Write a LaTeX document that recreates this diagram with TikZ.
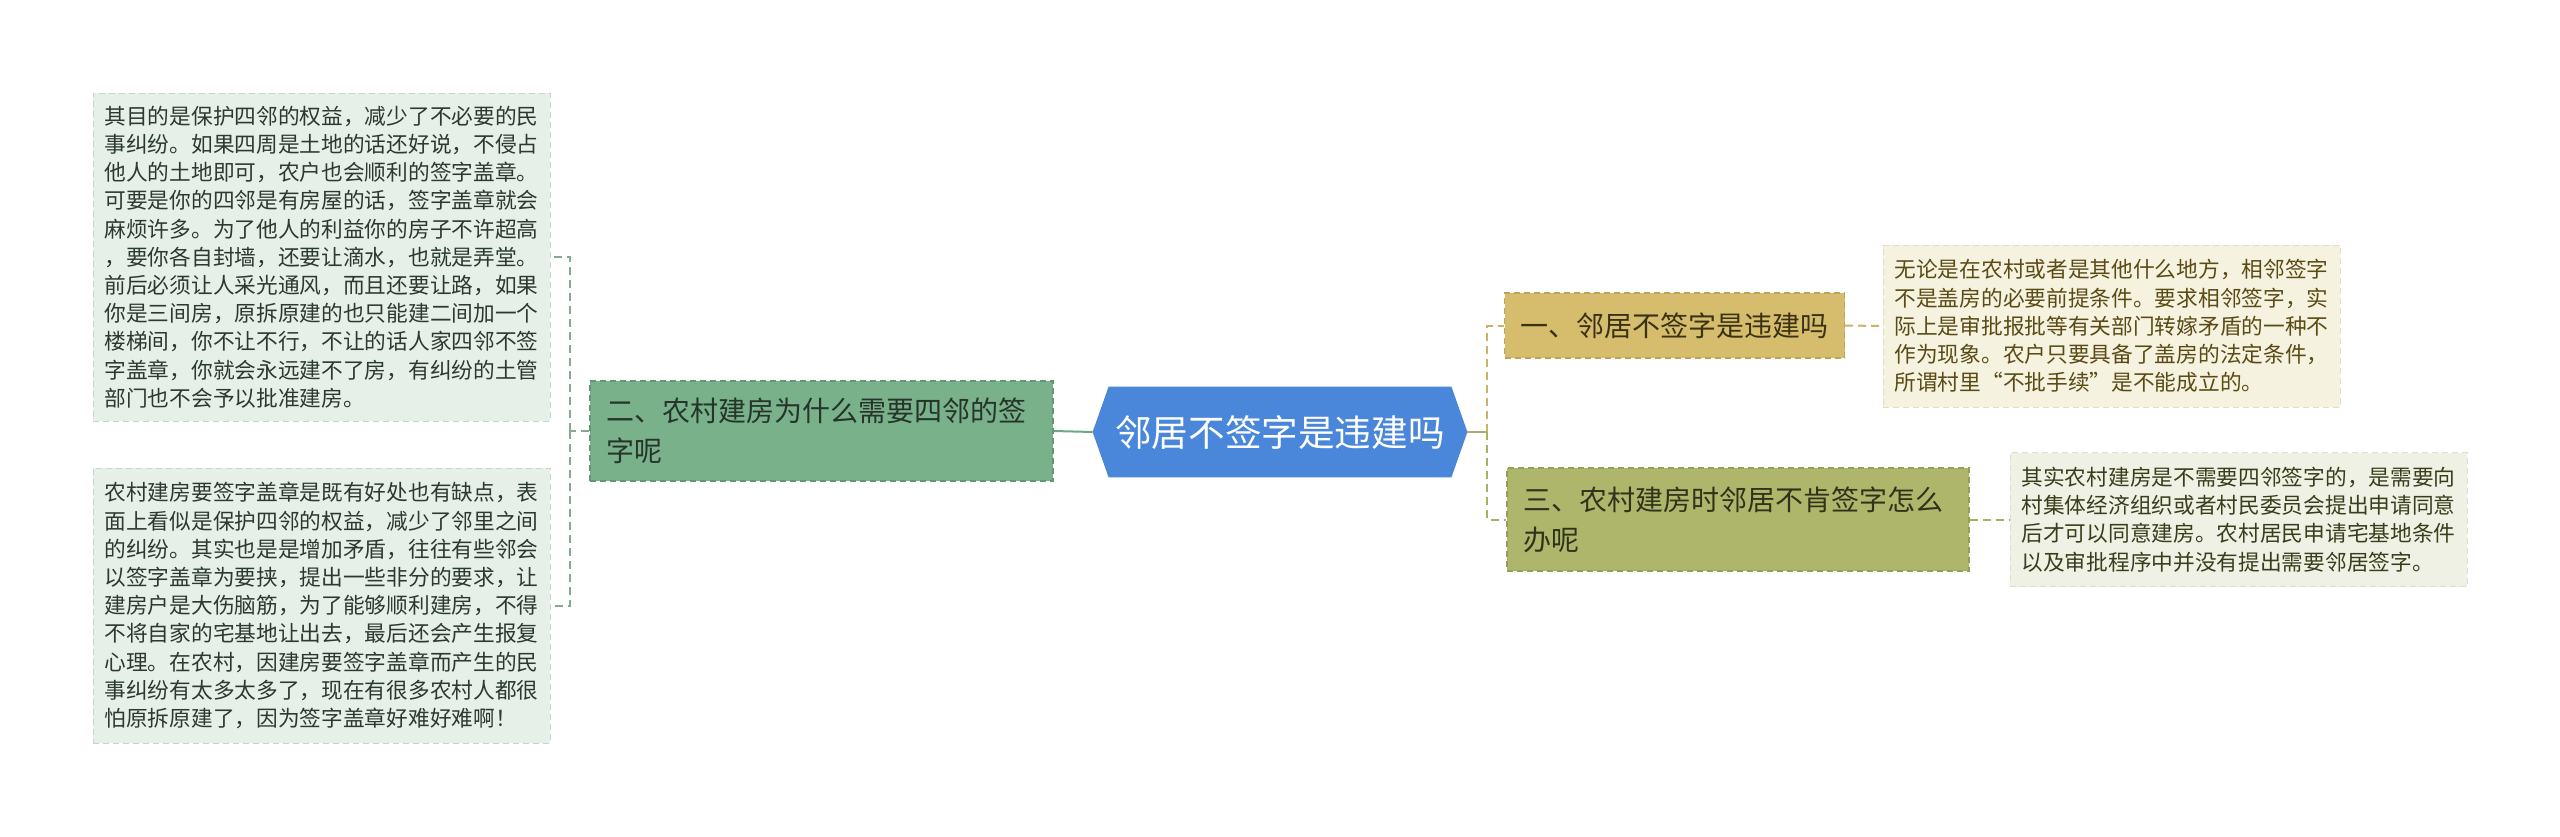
\documentclass[tikz,border=0pt]{standalone}
\usepackage{fontspec}
\setmainfont{Noto Sans CJK SC}
\usetikzlibrary{backgrounds}
\definecolor{lfill}{HTML}{E7EFE9}
\definecolor{lbord}{HTML}{C3D6C8}
\definecolor{ltext}{HTML}{2A3A2F}
\definecolor{gfill}{HTML}{79B18B}
\definecolor{gbord}{HTML}{5F9872}
\definecolor{gtext}{HTML}{26342A}
\definecolor{hexfill}{HTML}{4A86D9}
\definecolor{yfill}{HTML}{D6BD6D}
\definecolor{ybord}{HTML}{BDA456}
\definecolor{ytext}{HTML}{3B3113}
\definecolor{ofill}{HTML}{AEB66C}
\definecolor{obord}{HTML}{959E55}
\definecolor{otext}{HTML}{30331A}
\definecolor{cfill}{HTML}{F6F2E0}
\definecolor{cbord}{HTML}{E3DCC2}
\definecolor{ctext}{HTML}{5A4B15}
\definecolor{pfill}{HTML}{EFF1E4}
\definecolor{pbord}{HTML}{DCDFCB}
\definecolor{ptext}{HTML}{3A3D1C}
\definecolor{lconn}{HTML}{86A990}
\definecolor{gconn}{HTML}{6EA883}
\definecolor{yconn}{HTML}{C8B466}
\definecolor{oconn}{HTML}{A9B064}
\begin{document}
\begin{tikzpicture}[x=0.5pt,y=-0.5pt,
  body/.style={font=\fontsize{10.85pt}{14.1pt}\selectfont, align=left, inner sep=0pt,
    dash pattern=on 3pt off 2pt, line width=0.5pt, anchor=center},
  leftbox/.style={body, draw=lbord, fill=lfill, text=ltext},
  creambox/.style={body, draw=cbord, fill=cfill, text=ctext},
  palebox/.style={body, draw=pbord, fill=pfill, text=ptext},
  topic/.style={font=\fontsize{14pt}{20pt}\selectfont, align=left, inner xsep=8pt, inner ysep=0pt,
    dash pattern=on 3pt off 2pt, line width=0.6pt, anchor=center},
  conn/.style={line width=1pt, dash pattern=on 4pt off 2.5pt},
]
\useasboundingbox (0,0) rectangle (2560,836);
\begin{pgfonlayer}{background}
\fill[white] (0,0) rectangle (2560,836);
\end{pgfonlayer}

% left detail boxes
\node[leftbox, minimum width=228.5pt, minimum height=164pt] (L1) at (321.5,257) {其目的是保护四邻的权益，减少了不必要的民\\事纠纷。如果四周是土地的话还好说，不侵占\\他人的土地即可，农户也会顺利的签字盖章。\\可要是你的四邻是有房屋的话，签字盖章就会\\麻烦许多。为了他人的利益你的房子不许超高\\，要你各自封墙，还要让滴水，也就是弄堂。\\前后必须让人采光通风，而且还要让路，如果\\你是三间房，原拆原建的也只能建二间加一个\\楼梯间，你不让不行，不让的话人家四邻不签\\字盖章，你就会永远建不了房，有纠纷的土管\\部门也不会予以批准建房。};
\node[leftbox, minimum width=228.5pt, minimum height=137.5pt] (L2) at (321.5,605.5) {农村建房要签字盖章是既有好处也有缺点，表\\面上看似是保护四邻的权益，减少了邻里之间\\的纠纷。其实也是是增加矛盾，往往有些邻会\\以签字盖章为要挟，提出一些非分的要求，让\\建房户是大伤脑筋，为了能够顺利建房，不得\\不将自家的宅基地让出去，最后还会产生报复\\心理。在农村，因建房要签字盖章而产生的民\\事纠纷有太多太多了，现在有很多农村人都很\\怕原拆原建了，因为签字盖章好难好难啊！};

% green topic
\node[topic, draw=gbord, fill=gfill, text=gtext, text width=215.5pt, minimum height=50pt] (G) at (821.5,431) {二、农村建房为什么需要四邻的签\\字呢};

% center hexagon
\node[font=\fontsize{18.3pt}{22pt}\selectfont, text=white, inner sep=0pt, minimum width=187pt, minimum height=45pt] (C) at (1280,432) {邻居不签字是违建吗};
\begin{pgfonlayer}{background}
\fill[hexfill] (C.west) -- ([xshift=8pt]C.north west) -- ([xshift=-8pt]C.north east) -- (C.east) -- ([xshift=-8pt]C.south east) -- ([xshift=8pt]C.south west) -- cycle;
\end{pgfonlayer}

% right topics
\node[topic, draw=ybord, fill=yfill, text=ytext, minimum width=167.5pt, minimum height=32.5pt] (R1) at (1674.5,325.5) {一、邻居不签字是违建吗};
\node[topic, draw=obord, fill=ofill, text=otext, text width=215pt, minimum height=51.5pt] (R3) at (1738,519.5) {三、农村建房时邻居不肯签字怎么\\办呢};

% right detail boxes
\node[creambox, minimum width=228.5pt, minimum height=81pt] (D1) at (2111.5,326) {无论是在农村或者是其他什么地方，相邻签字\\不是盖房的必要前提条件。要求相邻签字，实\\际上是审批报批等有关部门转嫁矛盾的一种不\\作为现象。农户只要具备了盖房的法定条件，\\所谓村里“不批手续”是不能成立的。};
\node[palebox, minimum width=228.5pt, minimum height=67pt] (D3) at (2238.5,519.5) {其实农村建房是不需要四邻签字的，是需要向\\村集体经济组织或者村民委员会提出申请同意\\后才可以同意建房。农村居民申请宅基地条件\\以及审批程序中并没有提出需要邻居签字。};

% junctions
\coordinate (JL) at (570,431);
\coordinate (JR) at (1487,432);

% connectors
\draw[gconn, line width=1pt] (C.west) -- (G.east);
\draw[lconn, conn] (G.west) -- (JL);
\draw[lconn, conn] (JL) |- (L1.east);
\draw[lconn, conn] (JL) |- (L2.east);
\draw[oconn, line width=1pt] (C.east) -- (JR);
\draw[yconn, conn] (JR) |- (R1.west);
\draw[oconn, conn] (JR) |- (R3.west);
\draw[yconn, conn] (R1.east) -- (D1.west);
\draw[oconn, conn] (R3.east) -- (D3.west);
\end{tikzpicture}
\end{document}
